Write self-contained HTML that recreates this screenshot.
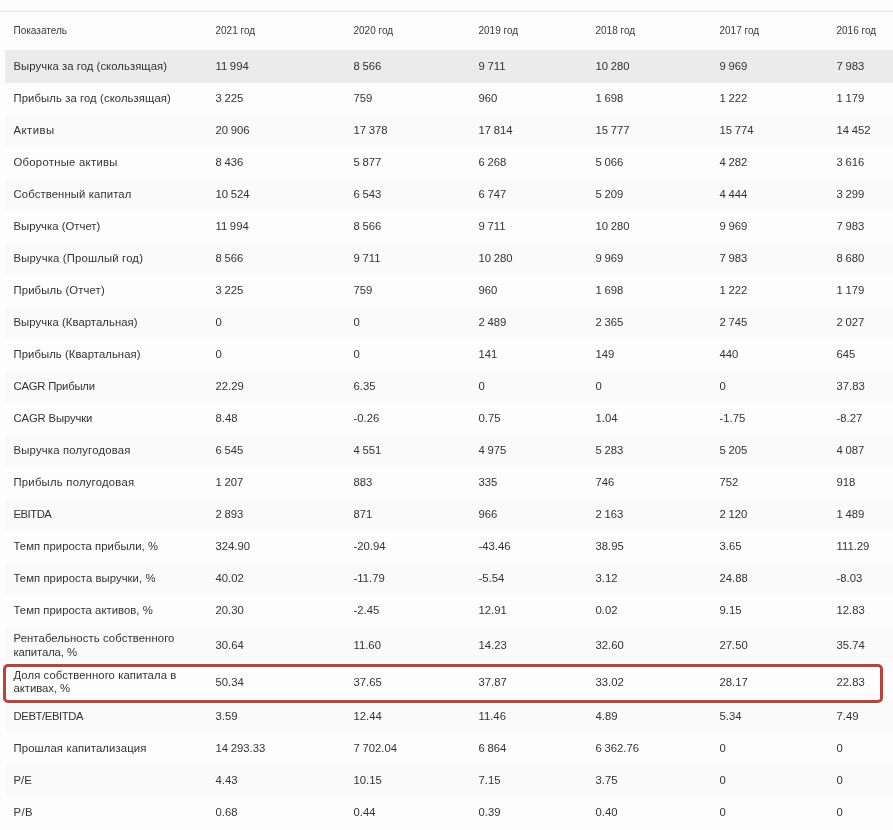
<!DOCTYPE html>
<html><head><meta charset="utf-8"><style>
html,body{margin:0;padding:0;background:#fdfdfd;}
body{width:893px;height:830px;overflow:hidden;position:relative;font-family:"Liberation Sans",sans-serif;color:#333;}
.topline{position:absolute;left:0;top:11px;width:893px;height:1px;background:#e6e6e6;}
.hd{position:absolute;left:0;top:0;width:893px;height:50px;will-change:transform;}
.h{position:absolute;top:25px;font-size:10px;line-height:12px;white-space:nowrap;color:#3a3a3a;}
.row{position:absolute;left:5px;width:888px;will-change:transform;}
.hov{background:#ebebeb;}
.str{background:#fafafa;}
.c{position:absolute;top:0;font-size:11.3px;white-space:nowrap;}
.v{word-spacing:-0.5px;}
.two{line-height:13.5px;top:5.7px;}
.box{position:absolute;left:3px;top:664px;width:874px;height:32.5px;border:3px solid #bb4238;border-radius:5px;}
</style></head><body>
<div class="topline"></div>
<div class="hd"><div class="h" style="left:13.5px">Показатель</div><div class="h" style="left:215.5px">2021 год</div><div class="h" style="left:353.5px">2020 год</div><div class="h" style="left:478.5px">2019 год</div><div class="h" style="left:595.5px">2018 год</div><div class="h" style="left:719.5px">2017 год</div><div class="h" style="left:836.5px">2016 год</div></div>
<div class="row hov" style="top:50px;height:33px"><div class="c" style="left:8.5px;line-height:32px;letter-spacing:0.058px">Выручка за год (скользящая)</div><div class="c v" style="left:210.5px;line-height:32px;top:0px">11 994</div><div class="c v" style="left:348.5px;line-height:32px;top:0px">8 566</div><div class="c v" style="left:473.5px;line-height:32px;top:0px">9 711</div><div class="c v" style="left:590.5px;line-height:32px;top:0px">10 280</div><div class="c v" style="left:714.5px;line-height:32px;top:0px">9 969</div><div class="c v" style="left:831.5px;line-height:32px;top:0px">7 983</div></div><div class="row" style="top:82px;height:32px"><div class="c" style="left:8.5px;line-height:32px;letter-spacing:0.092px">Прибыль за год (скользящая)</div><div class="c v" style="left:210.5px;line-height:32px;top:0px">3 225</div><div class="c v" style="left:348.5px;line-height:32px;top:0px">759</div><div class="c v" style="left:473.5px;line-height:32px;top:0px">960</div><div class="c v" style="left:590.5px;line-height:32px;top:0px">1 698</div><div class="c v" style="left:714.5px;line-height:32px;top:0px">1 222</div><div class="c v" style="left:831.5px;line-height:32px;top:0px">1 179</div></div><div class="row str" style="top:114px;height:32px"><div class="c" style="left:8.5px;line-height:32px;letter-spacing:0.48px">Активы</div><div class="c v" style="left:210.5px;line-height:32px;top:0px">20 906</div><div class="c v" style="left:348.5px;line-height:32px;top:0px">17 378</div><div class="c v" style="left:473.5px;line-height:32px;top:0px">17 814</div><div class="c v" style="left:590.5px;line-height:32px;top:0px">15 777</div><div class="c v" style="left:714.5px;line-height:32px;top:0px">15 774</div><div class="c v" style="left:831.5px;line-height:32px;top:0px">14 452</div></div><div class="row" style="top:146px;height:32px"><div class="c" style="left:8.5px;line-height:32px;letter-spacing:0.274px">Оборотные активы</div><div class="c v" style="left:210.5px;line-height:32px;top:0px">8 436</div><div class="c v" style="left:348.5px;line-height:32px;top:0px">5 877</div><div class="c v" style="left:473.5px;line-height:32px;top:0px">6 268</div><div class="c v" style="left:590.5px;line-height:32px;top:0px">5 066</div><div class="c v" style="left:714.5px;line-height:32px;top:0px">4 282</div><div class="c v" style="left:831.5px;line-height:32px;top:0px">3 616</div></div><div class="row str" style="top:178px;height:32px"><div class="c" style="left:8.5px;line-height:32px;letter-spacing:0.122px">Собственный капитал</div><div class="c v" style="left:210.5px;line-height:32px;top:0px">10 524</div><div class="c v" style="left:348.5px;line-height:32px;top:0px">6 543</div><div class="c v" style="left:473.5px;line-height:32px;top:0px">6 747</div><div class="c v" style="left:590.5px;line-height:32px;top:0px">5 209</div><div class="c v" style="left:714.5px;line-height:32px;top:0px">4 444</div><div class="c v" style="left:831.5px;line-height:32px;top:0px">3 299</div></div><div class="row" style="top:210px;height:32px"><div class="c" style="left:8.5px;line-height:32px;letter-spacing:0.029px">Выручка (Отчет)</div><div class="c v" style="left:210.5px;line-height:32px;top:0px">11 994</div><div class="c v" style="left:348.5px;line-height:32px;top:0px">8 566</div><div class="c v" style="left:473.5px;line-height:32px;top:0px">9 711</div><div class="c v" style="left:590.5px;line-height:32px;top:0px">10 280</div><div class="c v" style="left:714.5px;line-height:32px;top:0px">9 969</div><div class="c v" style="left:831.5px;line-height:32px;top:0px">7 983</div></div><div class="row str" style="top:242px;height:32px"><div class="c" style="left:8.5px;line-height:32px;letter-spacing:0.175px">Выручка (Прошлый год)</div><div class="c v" style="left:210.5px;line-height:32px;top:0px">8 566</div><div class="c v" style="left:348.5px;line-height:32px;top:0px">9 711</div><div class="c v" style="left:473.5px;line-height:32px;top:0px">10 280</div><div class="c v" style="left:590.5px;line-height:32px;top:0px">9 969</div><div class="c v" style="left:714.5px;line-height:32px;top:0px">7 983</div><div class="c v" style="left:831.5px;line-height:32px;top:0px">8 680</div></div><div class="row" style="top:274px;height:32px"><div class="c" style="left:8.5px;line-height:32px;letter-spacing:0.128px">Прибыль (Отчет)</div><div class="c v" style="left:210.5px;line-height:32px;top:0px">3 225</div><div class="c v" style="left:348.5px;line-height:32px;top:0px">759</div><div class="c v" style="left:473.5px;line-height:32px;top:0px">960</div><div class="c v" style="left:590.5px;line-height:32px;top:0px">1 698</div><div class="c v" style="left:714.5px;line-height:32px;top:0px">1 222</div><div class="c v" style="left:831.5px;line-height:32px;top:0px">1 179</div></div><div class="row str" style="top:306px;height:32px"><div class="c" style="left:8.5px;line-height:32px;letter-spacing:0.065px">Выручка (Квартальная)</div><div class="c v" style="left:210.5px;line-height:32px;top:0px">0</div><div class="c v" style="left:348.5px;line-height:32px;top:0px">0</div><div class="c v" style="left:473.5px;line-height:32px;top:0px">2 489</div><div class="c v" style="left:590.5px;line-height:32px;top:0px">2 365</div><div class="c v" style="left:714.5px;line-height:32px;top:0px">2 745</div><div class="c v" style="left:831.5px;line-height:32px;top:0px">2 027</div></div><div class="row" style="top:338px;height:32px"><div class="c" style="left:8.5px;line-height:32px;letter-spacing:0.065px">Прибыль (Квартальная)</div><div class="c v" style="left:210.5px;line-height:32px;top:0px">0</div><div class="c v" style="left:348.5px;line-height:32px;top:0px">0</div><div class="c v" style="left:473.5px;line-height:32px;top:0px">141</div><div class="c v" style="left:590.5px;line-height:32px;top:0px">149</div><div class="c v" style="left:714.5px;line-height:32px;top:0px">440</div><div class="c v" style="left:831.5px;line-height:32px;top:0px">645</div></div><div class="row str" style="top:370px;height:32px"><div class="c" style="left:8.5px;line-height:32px;letter-spacing:-0.227px">CAGR Прибыли</div><div class="c v" style="left:210.5px;line-height:32px;top:0px">22.29</div><div class="c v" style="left:348.5px;line-height:32px;top:0px">6.35</div><div class="c v" style="left:473.5px;line-height:32px;top:0px">0</div><div class="c v" style="left:590.5px;line-height:32px;top:0px">0</div><div class="c v" style="left:714.5px;line-height:32px;top:0px">0</div><div class="c v" style="left:831.5px;line-height:32px;top:0px">37.83</div></div><div class="row" style="top:402px;height:32px"><div class="c" style="left:8.5px;line-height:32px;letter-spacing:-0.136px">CAGR Выручки</div><div class="c v" style="left:210.5px;line-height:32px;top:0px">8.48</div><div class="c v" style="left:348.5px;line-height:32px;top:0px">-0.26</div><div class="c v" style="left:473.5px;line-height:32px;top:0px">0.75</div><div class="c v" style="left:590.5px;line-height:32px;top:0px">1.04</div><div class="c v" style="left:714.5px;line-height:32px;top:0px">-1.75</div><div class="c v" style="left:831.5px;line-height:32px;top:0px">-8.27</div></div><div class="row str" style="top:434px;height:32px"><div class="c" style="left:8.5px;line-height:32px;letter-spacing:0.189px">Выручка полугодовая</div><div class="c v" style="left:210.5px;line-height:32px;top:0px">6 545</div><div class="c v" style="left:348.5px;line-height:32px;top:0px">4 551</div><div class="c v" style="left:473.5px;line-height:32px;top:0px">4 975</div><div class="c v" style="left:590.5px;line-height:32px;top:0px">5 283</div><div class="c v" style="left:714.5px;line-height:32px;top:0px">5 205</div><div class="c v" style="left:831.5px;line-height:32px;top:0px">4 087</div></div><div class="row" style="top:466px;height:32px"><div class="c" style="left:8.5px;line-height:32px;letter-spacing:0.233px">Прибыль полугодовая</div><div class="c v" style="left:210.5px;line-height:32px;top:0px">1 207</div><div class="c v" style="left:348.5px;line-height:32px;top:0px">883</div><div class="c v" style="left:473.5px;line-height:32px;top:0px">335</div><div class="c v" style="left:590.5px;line-height:32px;top:0px">746</div><div class="c v" style="left:714.5px;line-height:32px;top:0px">752</div><div class="c v" style="left:831.5px;line-height:32px;top:0px">918</div></div><div class="row str" style="top:498px;height:32px"><div class="c" style="left:8.5px;line-height:32px;letter-spacing:-0.48px">EBITDA</div><div class="c v" style="left:210.5px;line-height:32px;top:0px">2 893</div><div class="c v" style="left:348.5px;line-height:32px;top:0px">871</div><div class="c v" style="left:473.5px;line-height:32px;top:0px">966</div><div class="c v" style="left:590.5px;line-height:32px;top:0px">2 163</div><div class="c v" style="left:714.5px;line-height:32px;top:0px">2 120</div><div class="c v" style="left:831.5px;line-height:32px;top:0px">1 489</div></div><div class="row" style="top:530px;height:32px"><div class="c" style="left:8.5px;line-height:32px;letter-spacing:0.043px">Темп прироста прибыли, %</div><div class="c v" style="left:210.5px;line-height:32px;top:0px">324.90</div><div class="c v" style="left:348.5px;line-height:32px;top:0px">-20.94</div><div class="c v" style="left:473.5px;line-height:32px;top:0px">-43.46</div><div class="c v" style="left:590.5px;line-height:32px;top:0px">38.95</div><div class="c v" style="left:714.5px;line-height:32px;top:0px">3.65</div><div class="c v" style="left:831.5px;line-height:32px;top:0px">111.29</div></div><div class="row str" style="top:562px;height:32px"><div class="c" style="left:8.5px;line-height:32px;letter-spacing:0.07px">Темп прироста выручки, %</div><div class="c v" style="left:210.5px;line-height:32px;top:0px">40.02</div><div class="c v" style="left:348.5px;line-height:32px;top:0px">-11.79</div><div class="c v" style="left:473.5px;line-height:32px;top:0px">-5.54</div><div class="c v" style="left:590.5px;line-height:32px;top:0px">3.12</div><div class="c v" style="left:714.5px;line-height:32px;top:0px">24.88</div><div class="c v" style="left:831.5px;line-height:32px;top:0px">-8.03</div></div><div class="row" style="top:594px;height:32px"><div class="c" style="left:8.5px;line-height:32px;letter-spacing:0.043px">Темп прироста активов, %</div><div class="c v" style="left:210.5px;line-height:32px;top:0px">20.30</div><div class="c v" style="left:348.5px;line-height:32px;top:0px">-2.45</div><div class="c v" style="left:473.5px;line-height:32px;top:0px">12.91</div><div class="c v" style="left:590.5px;line-height:32px;top:0px">0.02</div><div class="c v" style="left:714.5px;line-height:32px;top:0px">9.15</div><div class="c v" style="left:831.5px;line-height:32px;top:0px">12.83</div></div><div class="row str" style="top:626px;height:37px"><div class="c two" style="left:8.5px;line-height:14px;top:5.2px"><span style="letter-spacing:0.1px">Рентабельность собственного</span><br><span style="letter-spacing:-0.1px">капитала, %</span></div><div class="c v" style="left:210.5px;line-height:37px;top:1px">30.64</div><div class="c v" style="left:348.5px;line-height:37px;top:1px">11.60</div><div class="c v" style="left:473.5px;line-height:37px;top:1px">14.23</div><div class="c v" style="left:590.5px;line-height:37px;top:1px">32.60</div><div class="c v" style="left:714.5px;line-height:37px;top:1px">27.50</div><div class="c v" style="left:831.5px;line-height:37px;top:1px">35.74</div></div><div class="row" style="top:663px;height:37px"><div class="c two" style="left:8.5px;line-height:13.5px;top:5.7px"><span style="letter-spacing:0.09px">Доля собственного капитала в</span><br><span style="letter-spacing:-0.033px">активах, %</span></div><div class="c v" style="left:210.5px;line-height:37px;top:1px">50.34</div><div class="c v" style="left:348.5px;line-height:37px;top:1px">37.65</div><div class="c v" style="left:473.5px;line-height:37px;top:1px">37.87</div><div class="c v" style="left:590.5px;line-height:37px;top:1px">33.02</div><div class="c v" style="left:714.5px;line-height:37px;top:1px">28.17</div><div class="c v" style="left:831.5px;line-height:37px;top:1px">22.83</div></div><div class="row str" style="top:700px;height:32px"><div class="c" style="left:8.5px;line-height:32px;letter-spacing:-0.4px">DEBT/EBITDA</div><div class="c v" style="left:210.5px;line-height:32px;top:0px">3.59</div><div class="c v" style="left:348.5px;line-height:32px;top:0px">12.44</div><div class="c v" style="left:473.5px;line-height:32px;top:0px">11.46</div><div class="c v" style="left:590.5px;line-height:32px;top:0px">4.89</div><div class="c v" style="left:714.5px;line-height:32px;top:0px">5.34</div><div class="c v" style="left:831.5px;line-height:32px;top:0px">7.49</div></div><div class="row" style="top:732px;height:32px"><div class="c" style="left:8.5px;line-height:32px;letter-spacing:0.125px">Прошлая капитализация</div><div class="c v" style="left:210.5px;line-height:32px;top:0px">14 293.33</div><div class="c v" style="left:348.5px;line-height:32px;top:0px">7 702.04</div><div class="c v" style="left:473.5px;line-height:32px;top:0px">6 864</div><div class="c v" style="left:590.5px;line-height:32px;top:0px">6 362.76</div><div class="c v" style="left:714.5px;line-height:32px;top:0px">0</div><div class="c v" style="left:831.5px;line-height:32px;top:0px">0</div></div><div class="row str" style="top:764px;height:32px"><div class="c" style="left:8.5px;line-height:32px;letter-spacing:0.0px">P/E</div><div class="c v" style="left:210.5px;line-height:32px;top:0px">4.43</div><div class="c v" style="left:348.5px;line-height:32px;top:0px">10.15</div><div class="c v" style="left:473.5px;line-height:32px;top:0px">7.15</div><div class="c v" style="left:590.5px;line-height:32px;top:0px">3.75</div><div class="c v" style="left:714.5px;line-height:32px;top:0px">0</div><div class="c v" style="left:831.5px;line-height:32px;top:0px">0</div></div><div class="row" style="top:796px;height:32px"><div class="c" style="left:8.5px;line-height:32px;letter-spacing:0.4px">P/B</div><div class="c v" style="left:210.5px;line-height:32px;top:0px">0.68</div><div class="c v" style="left:348.5px;line-height:32px;top:0px">0.44</div><div class="c v" style="left:473.5px;line-height:32px;top:0px">0.39</div><div class="c v" style="left:590.5px;line-height:32px;top:0px">0.40</div><div class="c v" style="left:714.5px;line-height:32px;top:0px">0</div><div class="c v" style="left:831.5px;line-height:32px;top:0px">0</div></div>
<div class="box"></div>
</body></html>
